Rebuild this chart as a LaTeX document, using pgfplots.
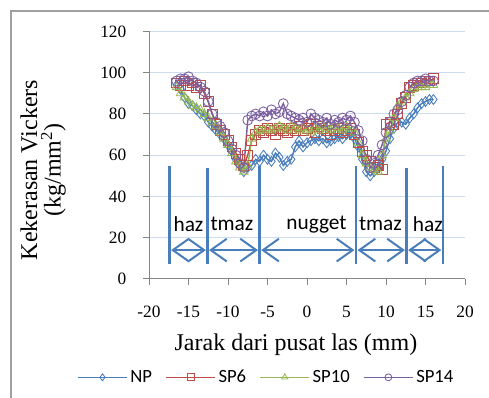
\documentclass[border=0pt]{standalone}
\usepackage{pgfplots}
\pgfplotsset{compat=1.18}
\usepackage{pgfplotstable}
\usepackage{fontspec}
\setmainfont{Liberation Serif}
\newfontfamily\calibri{Carlito}
\usetikzlibrary{arrows.meta}
\definecolor{cNP}{RGB}{74,126,187}
\definecolor{cSP6}{RGB}{190,75,72}
\definecolor{cSP10}{RGB}{152,185,84}
\definecolor{cSP14}{RGB}{125,96,160}
\definecolor{cgrid}{RGB}{205,219,240}
\definecolor{caxis}{RGB}{134,134,134}
\definecolor{cframe}{RGB}{160,160,160}

\pgfplotstableread{
x np sp6 sp10 sp14
-16.5 94 95 93 96
-16 92 94 90 97
-15.5 88 96 88 97
-15 85 94 86 98
-14.5 84 95 84 96
-14 82 93 83 95
-13.5 80 94 82 93
-13 79 90 80 91
-12.5 76 86 78 86
-12 74 80 76 80
-11.5 72 75 74 76
-11 70 72 71 74
-10.5 68 70 68 71
-10 65 67 65 67
-9.5 62 64 61 63
-9 58 61 57 60
-8.5 55 58 54 56
-8 52 55 52 54
-7.5 54 60 55 77
-7 55 67 68 79
-6.5 58 70 71 80
-6 57 72 72 79
-5.5 60 71 72 81
-5 58 73 73 79
-4.5 57 72 72 82
-4 61 70 73 80
-3.5 59 73 74 81
-3 55 72 73 85
-2.5 57 71 72 80
-2 58 73 74 79
-1.5 64 72 73 78
-1 67 74 72 77
-0.5 64 72 73 78
0 66 73 72 76
0.5 67 75 71 80
1 68 71 73 78
1.5 67 74 72 77
2 68 73 74 76
2.5 66 72 73 78
3 67 70 72 75
3.5 68 72 74 77
4 69 73 73 76
4.5 68 71 72 78
5 70 72 74 77
5.5 71 73 73 79
6 68 70 71 76
6.5 64 66 66 72
7 58 62 60 67
7.5 52 60 56 58
8 50 57 54 54
8.5 52 54 53 56
9 54 55 52 60
9.5 58 53 60 65
10 62 75 68 71
10.5 68 76 72 76
11 73 75 78 80
11.5 76 80 84 82
12 76 85 86 86
12.5 75 88 88 89
13 78 93 90 93
13.5 80 94 92 95
14 83 95 93 96
14.5 85 95 93 96
15 86 96 93 97
15.5 87 96 94 96
16 87 97 94 96
}\hardness

\begin{document}
\begin{tikzpicture}
\useasboundingbox (0,0) rectangle (366.75pt,298.5pt);
\draw[cframe, line width=1.5pt] (8.25pt,-2pt) -- (8.25pt,290.25pt) -- (370pt,290.25pt);
\begin{axis}[
  at={(111.75pt,89.25pt)}, anchor=south west,
  scale only axis, width=237pt, height=185.7pt,
  xmin=-20, xmax=20, ymin=0, ymax=120,
  xtick={-20,-15,...,20}, ytick={0,20,...,120},
  axis x line*=bottom, axis y line*=left,
  axis line style={caxis, line width=0.75pt},
  major tick style={caxis, line width=0.75pt},
  tick align=outside, major tick length=4.5pt,
  ymajorgrids, grid style={cgrid, line width=0.75pt},
  /pgf/number format/assume math mode=true,
  tick label style={font=\fontsize{13}{14}\selectfont},
  xticklabel style={yshift=-12pt},
  yticklabel style={xshift=-9pt},
  xlabel={Jarak dari pusat las (mm)},
  xlabel style={font=\fontsize{18}{20}\selectfont, at={(rel axis cs:0.465,-0.287)}, anchor=base},
  ylabel={Kekerasan Vickers\\(kg/mm\textsuperscript{2})},
  ylabel style={font=\fontsize{18}{17.5}\selectfont, align=center, at={(rel axis cs:-0.335,0.44)}, anchor=center},
  legend columns=4,
  legend style={draw=none, fill=none, inner sep=0pt,
    font=\calibri\fontsize{14}{16}\selectfont,
    at={(rel axis cs:-0.228,-0.397)}, anchor=west,
    /tikz/every even column/.append style={column sep=8pt}},
  legend cell align=left,
  legend image code/.code={\draw[mark repeat=2,mark phase=2,#1, mark size=2.6pt] plot coordinates {(0pt,0pt) (18.4pt,0pt) (36.75pt,0pt)};},
  every axis plot/.append style={line width=1.1pt, mark size=3.7pt, mark options={solid, line width=0.65pt}},
  clip=false,
]
\addplot[cNP, mark=diamond] table[x=x, y=np] {\hardness};
\addlegendentry{NP}
\addplot[cSP6, mark=square] table[x=x, y=sp6] {\hardness};
\addlegendentry{SP6}
\addplot[cSP10, mark=triangle] table[x=x, y=sp10] {\hardness};
\addlegendentry{SP10}
\addplot[cSP14, mark=o] table[x=x, y=sp14] {\hardness};
\addlegendentry{SP14}

\draw[cNP, line width=2pt] (axis cs:-17.4,7.5) -- (axis cs:-17.4,55);
\draw[cNP, line width=2pt] (axis cs:-12.6,7.5) -- (axis cs:-12.6,54);
\draw[cNP, line width=2pt] (axis cs:-6.0,7.5) -- (axis cs:-6.0,55);
\draw[cNP, line width=2pt] (axis cs:6.2,7.5) -- (axis cs:6.2,55);
\draw[cNP, line width=2pt] (axis cs:12.6,7.5) -- (axis cs:12.6,54);
\draw[cNP, line width=2pt] (axis cs:17.2,7.5) -- (axis cs:17.2,55);
\draw[cNP, line width=1.5pt, {Straight Barb[length=12pt,width=17pt]}-{Straight Barb[length=12pt,width=17pt]}] (axis cs:-17.2,14) -- (axis cs:-12.8,14);
\draw[cNP, line width=1.5pt, {Straight Barb[length=12pt,width=17pt]}-{Straight Barb[length=12pt,width=17pt]}] (axis cs:-12.4,14) -- (axis cs:-6.2,14);
\draw[cNP, line width=1.5pt, {Straight Barb[length=12pt,width=17pt]}-{Straight Barb[length=12pt,width=17pt]}] (axis cs:-5.8,14) -- (axis cs:6.0,14);
\draw[cNP, line width=1.5pt, {Straight Barb[length=12pt,width=17pt]}-{Straight Barb[length=12pt,width=17pt]}] (axis cs:6.4,14) -- (axis cs:12.4,14);
\draw[cNP, line width=1.5pt, {Straight Barb[length=12pt,width=17pt]}-{Straight Barb[length=12pt,width=17pt]}] (axis cs:12.8,14) -- (axis cs:17.0,14);
\node[font=\calibri\fontsize{16}{18}\selectfont] at (axis cs:-15.0,26.5) {haz};
\node[font=\calibri\fontsize{16}{18}\selectfont] at (axis cs:-9.5,26.5) {tmaz};
\node[font=\calibri\fontsize{16}{18}\selectfont] at (axis cs:1.2,26.5) {nugget};
\node[font=\calibri\fontsize{16}{18}\selectfont] at (axis cs:9.3,26.5) {tmaz};
\node[font=\calibri\fontsize{16}{18}\selectfont] at (axis cs:15.3,26.5) {haz};
\end{axis}
\end{tikzpicture}
\end{document}
